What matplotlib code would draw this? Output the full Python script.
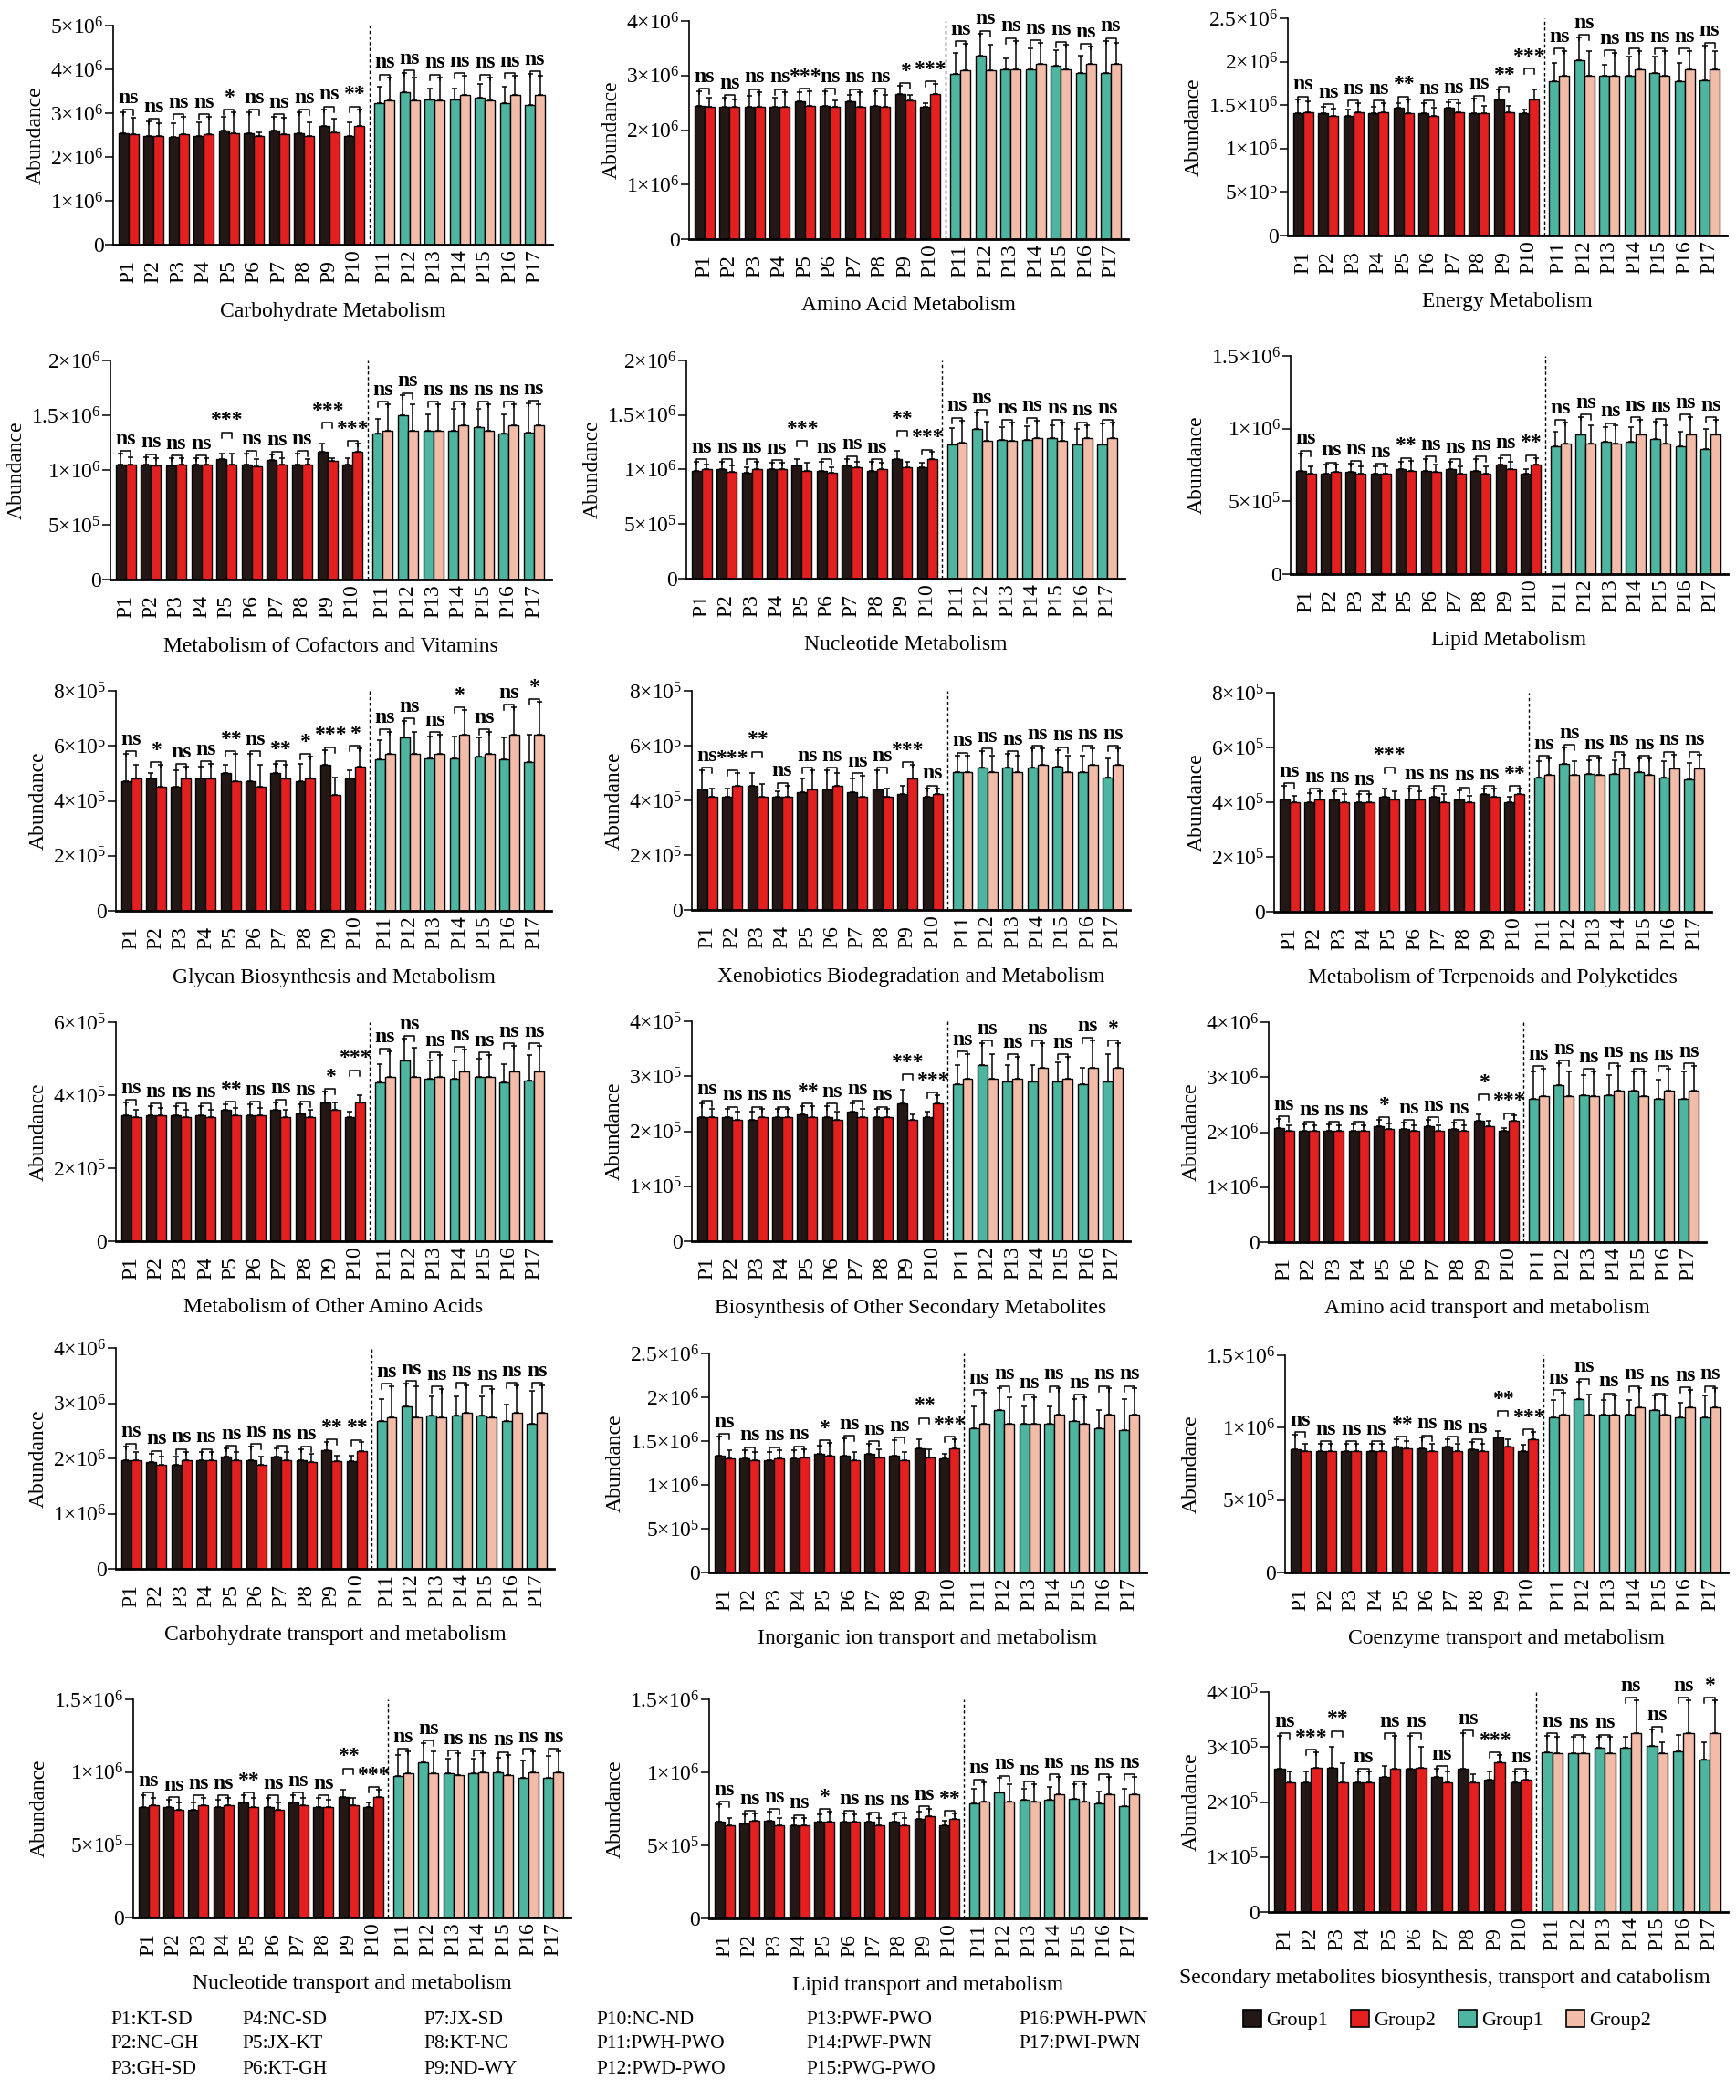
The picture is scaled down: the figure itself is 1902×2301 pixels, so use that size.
import numpy as np
import matplotlib
matplotlib.use("Agg")
import matplotlib.pyplot as plt
from matplotlib.patches import Patch

# ========== STYLE ==========
plt.rcParams['font.family'] = ['Liberation Serif', 'DejaVu Serif']
plt.rcParams['mathtext.fontset'] = 'custom'
plt.rcParams['mathtext.rm'] = 'Liberation Serif'
plt.rcParams['mathtext.it'] = 'Liberation Serif:italic'
plt.rcParams['mathtext.bf'] = 'Liberation Serif:bold'

COL_G1 = "#231815"   # Group1, P1-P10
COL_G2 = "#e41f1f"   # Group2, P1-P10
COL_G3 = "#4db5a0"   # Group1, P11-P17
COL_G4 = "#f3bca9"   # Group2, P11-P17

FIG_W, FIG_H = 1902, 2301

# ========== DATA ==========
pairs = ["P1", "P2", "P3", "P4", "P5", "P6", "P7", "P8", "P9", "P10",
         "P11", "P12", "P13", "P14", "P15", "P16", "P17"]

# Carbohydrate Metabolism (x1e6)
carb_g1 = [2.55, 2.48, 2.46, 2.48, 2.60, 2.55, 2.60, 2.55, 2.70, 2.48, 3.22, 3.48, 3.32, 3.32, 3.35, 3.22, 3.18]
carb_g2 = [2.52, 2.47, 2.52, 2.52, 2.55, 2.47, 2.52, 2.48, 2.57, 2.70, 3.30, 3.30, 3.30, 3.42, 3.30, 3.42, 3.42]
carb_e1 = [0.47, 0.33, 0.32, 0.31, 0.32, 0.47, 0.32, 0.47, 0.39, 0.31, 0.39, 0.44, 0.24, 0.24, 0.32, 0.39, 0.72]
carb_e2 = [0.38, 0.31, 0.40, 0.40, 0.47, 0.10, 0.38, 0.31, 0.31, 0.39, 0.52, 0.52, 0.52, 0.43, 0.52, 0.43, 0.43]
carb_sig = "ns ns ns ns * ns ns ns ns ** ns ns ns ns ns ns ns".split()

# Amino Acid Metabolism (x1e6)
amino_g1 = [2.44, 2.42, 2.43, 2.42, 2.53, 2.44, 2.53, 2.44, 2.66, 2.42, 3.03, 3.37, 3.12, 3.12, 3.18, 3.05, 3.05]
amino_g2 = [2.42, 2.42, 2.43, 2.43, 2.44, 2.43, 2.43, 2.42, 2.55, 2.66, 3.10, 3.10, 3.12, 3.22, 3.12, 3.22, 3.22]
amino_e1 = [0.27, 0.17, 0.19, 0.17, 0.17, 0.27, 0.11, 0.27, 0.15, 0.08, 0.38, 0.40, 0.20, 0.38, 0.29, 0.31, 0.59]
amino_e2 = [0.18, 0.14, 0.27, 0.27, 0.27, 0.11, 0.27, 0.22, 0.10, 0.18, 0.48, 0.46, 0.52, 0.38, 0.45, 0.31, 0.38]
amino_sig = "ns ns ns ns *** ns ns ns * *** ns ns ns ns ns ns ns".split()

# Energy Metabolism (x1e6)
energy_g1 = [1.41, 1.41, 1.38, 1.41, 1.47, 1.41, 1.47, 1.41, 1.56, 1.41, 1.78, 2.02, 1.84, 1.84, 1.87, 1.78, 1.79]
energy_g2 = [1.42, 1.38, 1.42, 1.42, 1.41, 1.38, 1.42, 1.41, 1.42, 1.56, 1.84, 1.84, 1.84, 1.91, 1.84, 1.91, 1.91]
energy_e1 = [0.16, 0.07, 0.07, 0.07, 0.05, 0.11, 0.06, 0.17, 0.12, 0.04, 0.21, 0.26, 0.12, 0.22, 0.19, 0.21, 0.40]
energy_e2 = [0.12, 0.08, 0.10, 0.10, 0.16, 0.09, 0.10, 0.08, 0.07, 0.12, 0.28, 0.28, 0.26, 0.21, 0.28, 0.21, 0.21]
energy_sig = "ns ns ns ns ** ns ns ns ** *** ns ns ns ns ns ns ns".split()

# Metabolism of Cofactors and Vitamins (x1e6)
cofac_g1 = [1.05, 1.05, 1.04, 1.05, 1.10, 1.05, 1.09, 1.05, 1.17, 1.05, 1.33, 1.50, 1.36, 1.36, 1.39, 1.33, 1.34]
cofac_g2 = [1.05, 1.04, 1.05, 1.05, 1.05, 1.03, 1.05, 1.05, 1.08, 1.17, 1.36, 1.36, 1.36, 1.41, 1.36, 1.41, 1.41]
cofac_e1 = [0.10, 0.07, 0.07, 0.06, 0.05, 0.10, 0.05, 0.10, 0.07, 0.06, 0.14, 0.18, 0.15, 0.20, 0.17, 0.18, 0.27]
cofac_e2 = [0.07, 0.07, 0.06, 0.06, 0.10, 0.07, 0.06, 0.05, 0.03, 0.07, 0.24, 0.24, 0.24, 0.19, 0.24, 0.19, 0.19]
cofac_sig = "ns ns ns ns *** ns ns ns *** *** ns ns ns ns ns ns ns".split()

# Nucleotide Metabolism (x1e6)
nucl_g1 = [0.99, 1.00, 0.97, 1.00, 1.04, 0.99, 1.04, 0.99, 1.10, 1.02, 1.23, 1.37, 1.27, 1.27, 1.29, 1.23, 1.23]
nucl_g2 = [1.00, 0.98, 1.00, 1.00, 0.99, 0.97, 1.02, 1.00, 1.02, 1.10, 1.25, 1.26, 1.26, 1.29, 1.26, 1.29, 1.29]
nucl_e1 = [0.08, 0.07, 0.05, 0.06, 0.06, 0.08, 0.06, 0.08, 0.07, 0.04, 0.15, 0.15, 0.12, 0.13, 0.12, 0.14, 0.19]
nucl_e2 = [0.05, 0.06, 0.07, 0.06, 0.07, 0.05, 0.05, 0.06, 0.05, 0.06, 0.20, 0.18, 0.17, 0.16, 0.17, 0.12, 0.14]
nucl_sig = "ns ns ns ns *** ns ns ns ** *** ns ns ns ns ns ns ns".split()

# Lipid Metabolism (x1e6)
lipid_g1 = [0.71, 0.69, 0.70, 0.69, 0.72, 0.71, 0.72, 0.71, 0.75, 0.69, 0.88, 0.96, 0.91, 0.91, 0.93, 0.88, 0.86]
lipid_g2 = [0.69, 0.70, 0.69, 0.69, 0.71, 0.70, 0.69, 0.69, 0.72, 0.75, 0.90, 0.90, 0.90, 0.96, 0.90, 0.96, 0.96]
lipid_e1 = [0.12, 0.06, 0.06, 0.05, 0.05, 0.08, 0.05, 0.08, 0.05, 0.03, 0.10, 0.12, 0.10, 0.10, 0.12, 0.10, 0.14]
lipid_e2 = [0.05, 0.05, 0.05, 0.05, 0.07, 0.05, 0.05, 0.05, 0.05, 0.05, 0.14, 0.12, 0.12, 0.10, 0.12, 0.12, 0.10]
lipid_sig = "ns ns ns ns ** ns ns ns ns ** ns ns ns ns ns ns ns".split()

# Glycan Biosynthesis and Metabolism (x1e5)
glycan_g1 = [4.70, 4.80, 4.50, 4.80, 5.00, 4.70, 5.00, 4.70, 5.30, 4.80, 5.50, 6.30, 5.55, 5.55, 5.60, 5.50, 5.40]
glycan_g2 = [4.80, 4.50, 4.80, 4.80, 4.70, 4.50, 4.80, 4.80, 4.20, 5.25, 5.70, 5.70, 5.70, 6.40, 5.70, 6.40, 6.40]
glycan_e1 = [1.00, 0.20, 0.60, 0.45, 0.30, 1.00, 0.35, 0.65, 0.55, 0.30, 0.70, 0.60, 0.80, 0.80, 0.70, 0.80, 1.00]
glycan_e2 = [0.50, 0.80, 0.45, 0.55, 1.00, 0.80, 0.50, 0.80, 0.65, 0.65, 0.80, 0.80, 0.70, 0.90, 0.80, 1.00, 1.20]
glycan_sig = "ns * ns ns ** ns ** * *** * ns ns ns * ns ns *".split()

# Xenobiotics Biodegradation and Metabolism (x1e5)
xeno_g1 = [4.40, 4.15, 4.55, 4.15, 4.30, 4.40, 4.30, 4.40, 4.25, 4.15, 5.05, 5.20, 5.20, 5.20, 5.25, 5.05, 4.85]
xeno_g2 = [4.15, 4.55, 4.15, 4.15, 4.40, 4.55, 4.15, 4.15, 4.80, 4.25, 5.05, 5.05, 5.05, 5.30, 5.05, 5.30, 5.30]
xeno_e1 = [0.70, 0.30, 0.45, 0.20, 0.50, 0.70, 0.50, 0.70, 0.30, 0.30, 0.60, 0.60, 0.50, 0.70, 0.60, 0.60, 0.70]
xeno_e2 = [0.30, 0.45, 0.45, 0.40, 0.70, 0.45, 0.75, 0.30, 0.50, 0.20, 0.60, 0.60, 0.60, 0.60, 0.60, 0.60, 0.60]
xeno_sig = "ns *** ** ns ns ns ns ns *** ns ns ns ns ns ns ns ns".split()

# Metabolism of Terpenoids and Polyketides (x1e5)
terp_g1 = [4.10, 4.00, 4.10, 4.00, 4.20, 4.10, 4.20, 4.10, 4.30, 4.00, 4.90, 5.40, 5.05, 5.05, 5.10, 4.90, 4.85]
terp_g2 = [4.00, 4.10, 4.00, 4.00, 4.10, 4.10, 4.00, 4.00, 4.20, 4.30, 5.00, 5.00, 5.00, 5.25, 5.00, 5.25, 5.25]
terp_e1 = [0.50, 0.35, 0.30, 0.30, 0.30, 0.40, 0.30, 0.35, 0.20, 0.20, 0.60, 0.60, 0.50, 0.50, 0.50, 0.60, 0.60]
terp_e2 = [0.25, 0.30, 0.30, 0.30, 0.30, 0.30, 0.30, 0.25, 0.30, 0.20, 0.60, 0.50, 0.60, 0.50, 0.60, 0.50, 0.50]
terp_sig = "ns ns ns ns *** ns ns ns ns ** ns ns ns ns ns ns ns".split()

# Metabolism of Other Amino Acids (x1e5)
oaa_g1 = [3.45, 3.45, 3.45, 3.45, 3.60, 3.45, 3.60, 3.50, 3.80, 3.40, 4.35, 4.95, 4.45, 4.45, 4.50, 4.35, 4.40]
oaa_g2 = [3.40, 3.45, 3.40, 3.40, 3.45, 3.45, 3.40, 3.40, 3.60, 3.80, 4.50, 4.50, 4.50, 4.65, 4.50, 4.65, 4.65]
oaa_e1 = [0.35, 0.25, 0.25, 0.25, 0.15, 0.30, 0.20, 0.25, 0.30, 0.15, 0.50, 0.60, 0.50, 0.50, 0.50, 0.50, 0.70]
oaa_e2 = [0.20, 0.20, 0.20, 0.20, 0.20, 0.20, 0.20, 0.20, 0.20, 0.20, 0.70, 0.80, 0.60, 0.60, 0.60, 0.70, 0.70]
oaa_sig = "ns ns ns ns ** ns ns ns * *** ns ns ns ns ns ns ns".split()

# Biosynthesis of Other Secondary Metabolites (x1e5)
bos_g1 = [2.25, 2.25, 2.20, 2.25, 2.30, 2.25, 2.35, 2.25, 2.50, 2.25, 2.85, 3.20, 2.90, 2.90, 2.90, 2.85, 2.90]
bos_g2 = [2.25, 2.20, 2.25, 2.25, 2.25, 2.20, 2.25, 2.25, 2.20, 2.50, 2.95, 2.95, 2.95, 3.15, 2.95, 3.15, 3.15]
bos_e1 = [0.25, 0.15, 0.15, 0.15, 0.15, 0.20, 0.15, 0.15, 0.25, 0.10, 0.35, 0.40, 0.30, 0.30, 0.35, 0.30, 0.50]
bos_e2 = [0.15, 0.15, 0.15, 0.15, 0.20, 0.15, 0.15, 0.15, 0.10, 0.15, 0.45, 0.45, 0.40, 0.45, 0.40, 0.50, 0.45]
bos_sig = "ns ns ns ns ** ns ns ns *** *** ns ns ns ns ns ns *".split()

# Amino acid transport and metabolism (x1e6)
aat_g1 = [2.07, 2.02, 2.02, 2.02, 2.10, 2.05, 2.10, 2.05, 2.20, 2.02, 2.60, 2.85, 2.68, 2.68, 2.75, 2.60, 2.60]
aat_g2 = [2.02, 2.02, 2.02, 2.02, 2.05, 2.02, 2.02, 2.02, 2.10, 2.20, 2.65, 2.65, 2.65, 2.75, 2.65, 2.75, 2.75]
aat_e1 = [0.17, 0.12, 0.12, 0.12, 0.12, 0.12, 0.12, 0.12, 0.12, 0.05, 0.50, 0.40, 0.35, 0.35, 0.35, 0.35, 0.50]
aat_e2 = [0.10, 0.10, 0.10, 0.10, 0.10, 0.10, 0.10, 0.10, 0.10, 0.10, 0.50, 0.45, 0.45, 0.45, 0.45, 0.40, 0.45]
aat_sig = "ns ns ns ns * ns ns ns * *** ns ns ns ns ns ns ns".split()

# Carbohydrate transport and metabolism (x1e6)
cbt_g1 = [1.97, 1.94, 1.89, 1.96, 2.03, 1.97, 2.03, 1.97, 2.15, 1.95, 2.68, 2.95, 2.77, 2.77, 2.77, 2.68, 2.63]
cbt_g2 = [1.97, 1.88, 1.97, 1.97, 1.97, 1.89, 1.97, 1.94, 1.95, 2.14, 2.75, 2.75, 2.75, 2.82, 2.75, 2.82, 2.82]
cbt_e1 = [0.25, 0.15, 0.15, 0.15, 0.15, 0.25, 0.15, 0.20, 0.15, 0.10, 0.40, 0.40, 0.35, 0.35, 0.35, 0.30, 0.60]
cbt_e2 = [0.15, 0.15, 0.15, 0.15, 0.15, 0.15, 0.15, 0.15, 0.10, 0.15, 0.55, 0.55, 0.50, 0.50, 0.50, 0.50, 0.50]
cbt_sig = "ns ns ns ns ns ns ns ns ** ** ns ns ns ns ns ns ns".split()

# Inorganic ion transport and metabolism (x1e6)
ion_g1 = [1.33, 1.30, 1.28, 1.30, 1.35, 1.33, 1.35, 1.33, 1.42, 1.30, 1.65, 1.85, 1.70, 1.70, 1.73, 1.65, 1.63]
ion_g2 = [1.30, 1.28, 1.30, 1.31, 1.33, 1.28, 1.31, 1.28, 1.31, 1.42, 1.70, 1.70, 1.70, 1.80, 1.70, 1.80, 1.80]
ion_e1 = [0.22, 0.10, 0.10, 0.10, 0.10, 0.20, 0.12, 0.18, 0.10, 0.05, 0.25, 0.25, 0.20, 0.20, 0.25, 0.20, 0.35]
ion_e2 = [0.10, 0.10, 0.10, 0.10, 0.15, 0.10, 0.10, 0.10, 0.10, 0.10, 0.35, 0.30, 0.30, 0.30, 0.30, 0.30, 0.30]
ion_sig = "ns ns ns ns * ns ns ns ** *** ns ns ns ns ns ns ns".split()

# Coenzyme transport and metabolism (x1e6)
coe_g1 = [0.85, 0.84, 0.84, 0.84, 0.87, 0.86, 0.87, 0.85, 0.93, 0.84, 1.07, 1.20, 1.09, 1.09, 1.12, 1.07, 1.07]
coe_g2 = [0.84, 0.84, 0.84, 0.84, 0.86, 0.84, 0.84, 0.84, 0.87, 0.92, 1.09, 1.09, 1.09, 1.14, 1.09, 1.14, 1.14]
coe_e1 = [0.10, 0.05, 0.05, 0.05, 0.05, 0.07, 0.05, 0.05, 0.05, 0.04, 0.12, 0.12, 0.10, 0.10, 0.10, 0.10, 0.15]
coe_e2 = [0.05, 0.05, 0.05, 0.05, 0.05, 0.05, 0.05, 0.05, 0.05, 0.05, 0.15, 0.14, 0.13, 0.13, 0.13, 0.12, 0.13]
coe_sig = "ns ns ns ns ** ns ns ns ** *** ns ns ns ns ns ns ns".split()

# Nucleotide transport and metabolism (x1e6)
ntr_g1 = [0.76, 0.76, 0.74, 0.76, 0.79, 0.76, 0.79, 0.76, 0.83, 0.76, 0.97, 1.07, 0.99, 0.99, 1.00, 0.96, 0.96]
ntr_g2 = [0.77, 0.74, 0.77, 0.77, 0.76, 0.74, 0.77, 0.76, 0.77, 0.83, 0.99, 0.99, 0.98, 1.00, 0.98, 1.00, 1.00]
ntr_e1 = [0.08, 0.05, 0.05, 0.05, 0.05, 0.06, 0.05, 0.06, 0.05, 0.03, 0.15, 0.13, 0.10, 0.10, 0.10, 0.12, 0.15]
ntr_e2 = [0.05, 0.05, 0.05, 0.05, 0.06, 0.05, 0.05, 0.05, 0.05, 0.05, 0.15, 0.15, 0.15, 0.13, 0.14, 0.14, 0.14]
ntr_sig = "ns ns ns ns ** ns ns ns ** *** ns ns ns ns ns ns ns".split()

# Lipid transport and metabolism (x1e6)
ltr_g1 = [0.66, 0.65, 0.67, 0.64, 0.66, 0.66, 0.66, 0.66, 0.68, 0.64, 0.79, 0.86, 0.81, 0.81, 0.82, 0.79, 0.77]
ltr_g2 = [0.64, 0.67, 0.64, 0.64, 0.66, 0.66, 0.64, 0.64, 0.70, 0.68, 0.80, 0.80, 0.80, 0.85, 0.80, 0.85, 0.85]
ltr_e1 = [0.12, 0.06, 0.06, 0.05, 0.05, 0.06, 0.05, 0.05, 0.05, 0.03, 0.10, 0.10, 0.08, 0.09, 0.10, 0.08, 0.12]
ltr_e2 = [0.05, 0.05, 0.05, 0.05, 0.07, 0.05, 0.05, 0.05, 0.05, 0.04, 0.13, 0.12, 0.12, 0.12, 0.12, 0.12, 0.12]
ltr_sig = "ns ns ns ns * ns ns ns ns ** ns ns ns ns ns ns ns".split()

# Secondary metabolites biosynthesis, transport and catabolism (x1e5)
sec_g1 = [2.60, 2.35, 2.62, 2.35, 2.45, 2.60, 2.45, 2.60, 2.40, 2.35, 2.90, 2.88, 2.98, 2.98, 3.02, 2.92, 2.78]
sec_g2 = [2.35, 2.62, 2.35, 2.35, 2.60, 2.62, 2.35, 2.35, 2.72, 2.40, 2.88, 2.88, 2.88, 3.25, 2.88, 3.25, 3.25]
sec_e1 = [0.60, 0.20, 0.38, 0.20, 0.20, 0.60, 0.15, 0.65, 0.15, 0.20, 0.30, 0.30, 0.20, 0.20, 0.30, 0.30, 0.30]
sec_e2 = [0.20, 0.28, 0.35, 0.20, 0.60, 0.38, 0.20, 0.15, 0.13, 0.15, 0.30, 0.30, 0.30, 0.60, 0.20, 0.60, 0.60]
sec_sig = "ns *** ** ns ns ns ns ns *** ns ns ns ns ns ns ns *".split()

titles = ["Carbohydrate Metabolism", "Amino Acid Metabolism", "Energy Metabolism",
          "Metabolism of Cofactors and Vitamins", "Nucleotide Metabolism", "Lipid Metabolism",
          "Glycan Biosynthesis and Metabolism", "Xenobiotics Biodegradation and Metabolism",
          "Metabolism of Terpenoids and Polyketides",
          "Metabolism of Other Amino Acids", "Biosynthesis of Other Secondary Metabolites",
          "Amino acid transport and metabolism",
          "Carbohydrate transport and metabolism", "Inorganic ion transport and metabolism",
          "Coenzyme transport and metabolism",
          "Nucleotide transport and metabolism", "Lipid transport and metabolism",
          "Secondary metabolites biosynthesis, transport and catabolism"]
units = [1e6, 1e6, 1e6, 1e6, 1e6, 1e6, 1e5, 1e5, 1e5, 1e5, 1e5, 1e6, 1e6, 1e6, 1e6, 1e6, 1e6, 1e5]
ymax = [5, 4, 2.5, 2, 2, 1.5, 8, 8, 8, 6, 4, 4, 4, 2.5, 1.5, 1.5, 1.5, 4]
ystep = [1, 1, 0.5, 0.5, 0.5, 0.5, 2, 2, 2, 2, 1, 1, 1, 0.5, 0.5, 0.5, 0.5, 1]

legend_rows = [["P1:KT-SD", "P4:NC-SD", "P7:JX-SD", "P10:NC-ND", "P13:PWF-PWO", "P16:PWH-PWN"],
               ["P2:NC-GH", "P5:JX-KT", "P8:KT-NC", "P11:PWH-PWO", "P14:PWF-PWN", "P17:PWI-PWN"],
               ["P3:GH-SD", "P6:KT-GH", "P9:ND-WY", "P12:PWD-PWO", "P15:PWG-PWO"]]

G1 = [carb_g1, amino_g1, energy_g1, cofac_g1, nucl_g1, lipid_g1, glycan_g1, xeno_g1, terp_g1,
      oaa_g1, bos_g1, aat_g1, cbt_g1, ion_g1, coe_g1, ntr_g1, ltr_g1, sec_g1]
G2 = [carb_g2, amino_g2, energy_g2, cofac_g2, nucl_g2, lipid_g2, glycan_g2, xeno_g2, terp_g2,
      oaa_g2, bos_g2, aat_g2, cbt_g2, ion_g2, coe_g2, ntr_g2, ltr_g2, sec_g2]
E1 = [carb_e1, amino_e1, energy_e1, cofac_e1, nucl_e1, lipid_e1, glycan_e1, xeno_e1, terp_e1,
      oaa_e1, bos_e1, aat_e1, cbt_e1, ion_e1, coe_e1, ntr_e1, ltr_e1, sec_e1]
E2 = [carb_e2, amino_e2, energy_e2, cofac_e2, nucl_e2, lipid_e2, glycan_e2, xeno_e2, terp_e2,
      oaa_e2, bos_e2, aat_e2, cbt_e2, ion_e2, coe_e2, ntr_e2, ltr_e2, sec_e2]
SIG = [carb_sig, amino_sig, energy_sig, cofac_sig, nucl_sig, lipid_sig, glycan_sig, xeno_sig, terp_sig,
       oaa_sig, bos_sig, aat_sig, cbt_sig, ion_sig, coe_sig, ntr_sig, ltr_sig, sec_sig]

# ========== LAYOUT (pixels: left, right, top, baseline) ==========
AX_PX = [(124, 605, 28, 268), (755, 1236, 23, 262), (1411, 1892, 20, 258),
         (121, 604, 395, 635), (752, 1232, 395, 634), (1414, 1893, 390, 629),
         (127, 604, 757, 998), (758, 1238, 757, 997), (1396, 1875, 759, 999),
         (127, 604, 1120, 1360), (758, 1238, 1119, 1360), (1390, 1869, 1120, 1361),
         (127, 607, 1477, 1719), (777, 1256, 1483, 1723), (1408, 1893, 1485, 1723),
         (146, 625, 1862, 2101), (777, 1256, 1862, 2102), (1390, 1893, 1854, 2095)]
TITLE_DX = [0] * 17 + [-59]
# significance labels lifted above a crowded neighbour
RAISE = {2: [9], 3: [4, 8], 4: [4, 8], 7: [2], 8: [4], 9: [9], 10: [8],
         11: [8], 13: [8], 14: [8], 15: [8], 17: [2]}

xs = np.r_[np.arange(10), np.arange(10, 17) + 0.2]
BW = 0.4
DIV_X = 9.6


def tick_label(v):
    if v == 0:
        return "0"
    e = int(np.floor(np.log10(v) + 1e-9))
    m = round(v / 10 ** e, 3)
    return r"$%g{\times}10^{%d}$" % (m, e)


fig = plt.figure(figsize=(FIG_W / 100, FIG_H / 100), dpi=100)

for k in range(18):
    l, r, t, b = AX_PX[k]
    ax = fig.add_axes([l / FIG_W, 1 - b / FIG_H, (r - l) / FIG_W, (b - t) / FIG_H])
    u = units[k]
    top = ymax[k] * u
    g1 = np.array(G1[k]) * u
    g2 = np.array(G2[k]) * u
    e1 = np.array(E1[k]) * u
    e2 = np.array(E2[k]) * u

    L, R = slice(0, 10), slice(10, 17)
    kw = dict(edgecolor="black", linewidth=1.0, zorder=2)
    ax.bar(xs[L] - BW / 2, g1[L], BW, color=COL_G1, **kw)
    ax.bar(xs[L] + BW / 2, g2[L], BW, color=COL_G2, **kw)
    ax.bar(xs[R] - BW / 2, g1[R], BW, color=COL_G3, **kw)
    ax.bar(xs[R] + BW / 2, g2[R], BW, color=COL_G4, **kw)
    ekw = dict(fmt="none", ecolor="black", elinewidth=1.1, capsize=2.5, capthick=1.1, zorder=3)
    ax.errorbar(xs - BW / 2, g1, yerr=[np.zeros(17), e1], **ekw)
    ax.errorbar(xs + BW / 2, g2, yerr=[np.zeros(17), e2], **ekw)

    # significance brackets
    yb = np.maximum(g1 + e1, g2 + e2) + 0.012 * top
    for i in RAISE.get(k, []):
        # neighbours on the same side of the dotted divider only
        nb = [yb[j] for j in (i - 1, i + 1) if 0 <= j < 17 and (j < 10) == (i < 10)]
        yb[i] = max(yb[i], max(nb) + 0.085 * top)
    for i in range(17):
        x0, x1 = xs[i] - BW / 2, xs[i] + BW / 2
        ax.plot([x0, x0, x1, x1], [yb[i] - 0.025 * top, yb[i], yb[i], yb[i] - 0.025 * top],
                color="black", lw=1.1, clip_on=False, zorder=4)
        ax.text(xs[i], yb[i] + 0.01 * top, SIG[k][i], ha="center", va="bottom",
                fontsize=17, fontweight="bold", clip_on=False)

    ax.axvline(DIV_X, color="black", lw=1.0, ls=(0, (2.5, 2)), zorder=1)

    ax.set_xlim(-0.61, 16.89)
    ax.set_ylim(0, top)
    yt = np.arange(0, ymax[k] + 1e-9, ystep[k]) * u
    ax.set_yticks(yt)
    ax.set_yticklabels([tick_label(v) for v in yt])
    ax.set_xticks([])
    for x, p in zip(xs, pairs):
        ax.annotate(p, xy=(x, 0), xycoords=("data", "axes fraction"),
                    xytext=(0, -42), textcoords="offset pixels",
                    rotation=90, ha="center", va="bottom", fontsize=17)
    ax.tick_params(axis="y", length=6.5, width=1.1, labelsize=17, pad=1)
    for s in ("top", "right"):
        ax.spines[s].set_visible(False)
    ax.spines["left"].set_linewidth(1.2)
    ax.spines["bottom"].set_linewidth(2.0)
    ax.set_ylabel("Abundance", fontsize=17, labelpad=4)
    ax.annotate(titles[k], xy=(0.5, 0), xycoords="axes fraction",
                xytext=(TITLE_DX[k], -73), textcoords="offset pixels",
                ha="center", va="center", fontsize=17)

# ========== LEGEND ==========
col_x = [121, 265, 464, 653, 883, 1116]
row_y = [2213, 2240, 2268]
for ri, row in enumerate(legend_rows):
    for ci, txt in enumerate(row):
        fig.text(col_x[ci] / FIG_W, 1 - row_y[ri] / FIG_H, txt, ha="left", va="center", fontsize=15.5)

handles = [Patch(facecolor=c, edgecolor="black", linewidth=1.2) for c in (COL_G1, COL_G2, COL_G3, COL_G4)]
fig.legend(handles, ["Group1", "Group2", "Group1", "Group2"], ncol=4, frameon=False,
           loc="center left", bbox_to_anchor=(1362 / FIG_W, 1 - 2213 / FIG_H),
           fontsize=16, handlelength=0.9, handleheight=0.9, handletextpad=0.25,
           columnspacing=1.1, borderpad=0, borderaxespad=0)

fig.savefig("out.png", dpi=100)
